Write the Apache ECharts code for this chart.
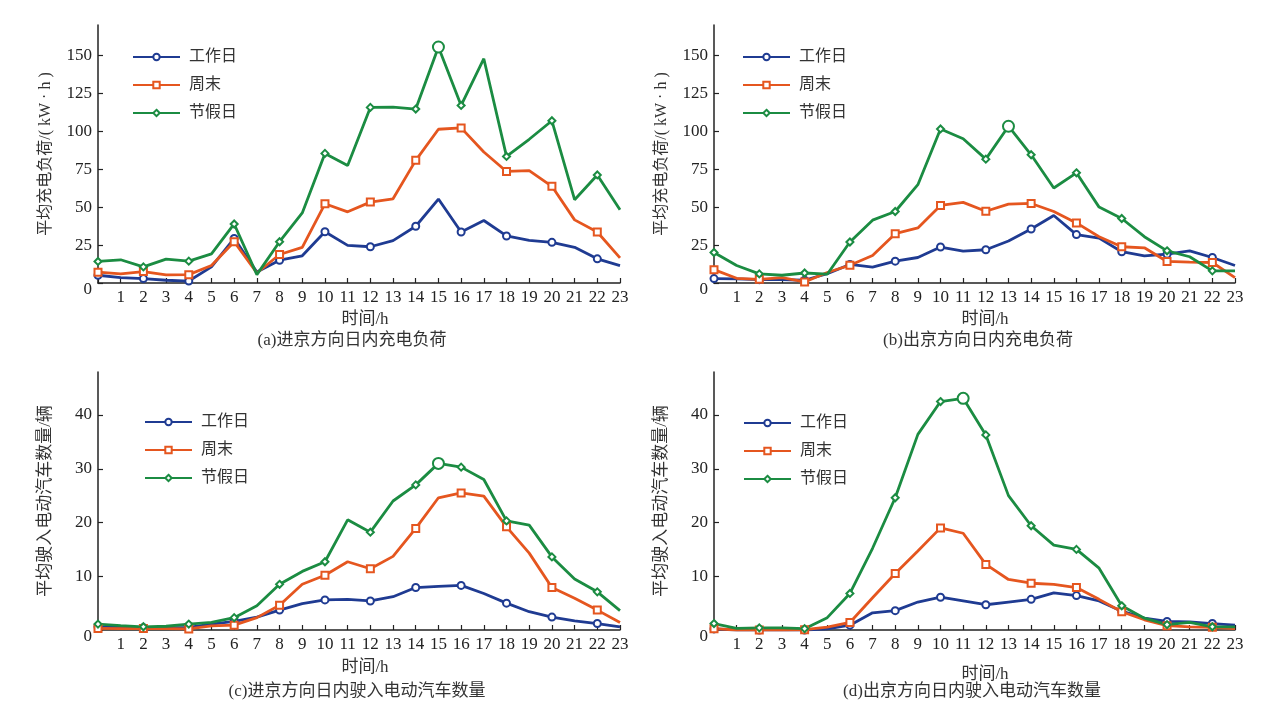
<!DOCTYPE html>
<html>
<head>
<meta charset="utf-8">
<script src="https://cdn.jsdelivr.net/npm/echarts@6/dist/echarts.min.js"></script>
<style>
  html, body { margin: 0; padding: 0; background: #fff; }
  #chart { width: 1271px; height: 715px; }
</style>
</head>
<body>
<div id="chart"></div>
<script>
const hours = ["0", "1", "2", "3", "4", "5", "6", "7", "8", "9", "10", "11",
  "12", "13", "14", "15", "16", "17", "18", "19", "20", "21", "22", "23"];
const seriesNames = ["工作日", "周末", "节假日"];

// (a) 进京 charging load
const loadInWork = [5.1, 3.5, 2.9, 1.8, 1.3, 10.6, 29.4, 7.3, 15, 17.9, 33.8, 24.8, 23.9, 27.9, 37.4, 55.3, 33.6, 41.2, 31, 28.1, 26.8, 23.5, 15.9, 11.5];
const loadInWeekend = [7.1, 6, 7.5, 5.3, 5.5, 11.5, 27.2, 6.6, 18.8, 23.5, 52.2, 46.9, 53.3, 55.5, 80.8, 101.3, 102.2, 86.3, 73.5, 74.1, 63.7, 41.6, 33.6, 16.6];
const loadInHoliday = [14.2, 15.3, 10.6, 15.7, 14.4, 19.2, 38.9, 5.5, 27.2, 46.2, 85.4, 77.4, 115.7, 115.9, 114.6, 155.5, 117, 147.8, 83.4, 94.7, 106.9, 54.9, 71.2, 48.2];

// (b) 出京 charging load
const loadOutWork = [2.9, 2.7, 2.2, 2.2, 1.8, 6.2, 12.2, 10.4, 14.4, 16.8, 23.7, 21, 21.9, 27.7, 35.6, 44.5, 31.9, 29.6, 20.6, 17.9, 19, 21.2, 16.8, 11.5];
const loadOutWeekend = [8.8, 3.1, 2.4, 3.5, 0.7, 6.9, 11.7, 18.1, 32.5, 36.3, 51.1, 53.1, 47.3, 52, 52.4, 47.1, 39.6, 30.5, 23.9, 23.2, 14.2, 13.7, 13.5, 3.5];
const loadOutHoliday = [20.1, 11.5, 6, 5.1, 6.6, 5.8, 27, 41.4, 47.1, 64.8, 101.5, 95.1, 81.6, 103.3, 84.5, 62.6, 72.6, 50, 42.5, 30.5, 21.2, 17.3, 8, 8];

// (c) 进京 arriving EVs
const carsInWork = [0.6, 0.5, 0.4, 0.4, 0.5, 1.1, 1.6, 2.4, 3.7, 4.9, 5.6, 5.7, 5.4, 6.2, 7.9, 8.1, 8.3, 6.8, 5, 3.4, 2.4, 1.7, 1.2, 0.6];
const carsInWeekend = [0.3, 0.25, 0.3, 0.25, 0.2, 0.75, 0.9, 2.3, 4.6, 8.5, 10.2, 12.7, 11.4, 13.7, 18.9, 24.6, 25.5, 24.9, 19.2, 14.3, 7.9, 5.9, 3.7, 1.4];
const carsInHoliday = [1.1, 0.8, 0.6, 0.7, 1.1, 1.4, 2.3, 4.5, 8.5, 10.9, 12.7, 20.5, 18.2, 24, 27, 31, 30.3, 28, 20.3, 19.5, 13.6, 9.5, 7.1, 3.6];

// (d) 出京 arriving EVs
const carsOutWork = [0.2, 0, 0, 0, 0, 0.2, 0.9, 3.2, 3.6, 5.2, 6.1, 5.4, 4.7, 5.2, 5.7, 6.9, 6.4, 5.4, 3.5, 2.2, 1.6, 1.5, 1.2, 0.9];
const carsOutWeekend = [0.25, 0, 0, 0, 0.05, 0.55, 1.4, 6, 10.5, 14.7, 19, 18, 12.2, 9.4, 8.7, 8.5, 7.9, 5.7, 3.4, 1.9, 0.8, 0.6, 0.5, 0.25];
const carsOutHoliday = [1.2, 0.3, 0.4, 0.4, 0.25, 2.3, 6.8, 15.2, 24.6, 36.4, 42.5, 43.1, 36.3, 25, 19.4, 15.8, 15, 11.5, 4.5, 2.2, 1, 1.4, 0.6, 0.6];

const peakHours = [15, 13, 15, 11]; // holiday peak marked with a big circle
const loadTicks = [0, 25, 50, 75, 100, 125, 150];
const carTicks = [0, 10, 20, 30, 40];

const panelTitles = ["(a)进京方向日内充电负荷", "(b)出京方向日内充电负荷",
  "(c)进京方向日内驶入电动汽车数量", "(d)出京方向日内驶入电动汽车数量"];
const yNames = ["平均充电负荷/( kW · h )", "平均充电负荷/( kW · h )", "平均驶入电动汽车数量/辆", "平均驶入电动汽车数量/辆"];

const colors = ["#1f3b92", "#e5561f", "#1b8c42"];
const symbols = ["emptyCircle", "emptyRect", "emptyDiamond"];
const serif = '"Liberation Serif", "Noto Sans CJK SC", serif';

const panels = [
  { grid: { left: 98, top: 25, width: 522, height: 258 }, max: 170, ticks: loadTicks, nameSize: 16,
    data: [loadInWork, loadInWeekend, loadInHoliday], legend: [132, 48], xName: [365, 320], title: [352, 341] },
  { grid: { left: 714, top: 25, width: 521, height: 258 }, max: 170, ticks: loadTicks, nameSize: 16,
    data: [loadOutWork, loadOutWeekend, loadOutHoliday], legend: [742, 48], xName: [985, 320], title: [978, 341] },
  { grid: { left: 98, top: 372, width: 522, height: 258 }, max: 48, ticks: carTicks, nameSize: 17,
    data: [carsInWork, carsInWeekend, carsInHoliday], legend: [144, 413], xName: [365, 668], title: [357, 692] },
  { grid: { left: 714, top: 372, width: 521, height: 258 }, max: 48, ticks: carTicks, nameSize: 17,
    data: [carsOutWork, carsOutWeekend, carsOutHoliday], legend: [743, 414], xName: [985, 675], title: [972, 692] }
];

function markData(values, peak, isHoliday) {
  return values.map((v, i) => {
    if (isHoliday && i === peak) return { value: v, symbol: "emptyCircle", symbolSize: 11 };
    if (i % 2 === 1) return { value: v, symbol: "none" };
    return v;
  });
}

function label(text, x, y) {
  return {
    type: "text",
    x: x,
    y: y,
    style: { text: text, fill: "#333", font: "17px " + serif, textAlign: "center", textVerticalAlign: "middle" }
  };
}

const option = {
  animation: false,
  grid: panels.map(p => p.grid),
  xAxis: panels.map((p, k) => ({
    type: "category",
    gridIndex: k,
    data: hours,
    boundaryGap: false,
    axisLine: { lineStyle: { color: "#222", width: 1.5 } },
    axisTick: { inside: true, length: 5, interval: 0, lineStyle: { color: "#222", width: 1.2 } },
    axisLabel: { interval: i => i > 0, margin: 6, fontFamily: serif, fontSize: 17, color: "#222" },
    splitLine: { show: false }
  })),
  yAxis: panels.map((p, k) => ({
    type: "value",
    gridIndex: k,
    min: 0,
    max: p.max,
    name: yNames[k],
    nameLocation: "middle",
    nameGap: 44,
    nameTextStyle: { fontFamily: serif, fontSize: p.nameSize, color: "#333" },
    axisLine: { show: true, lineStyle: { color: "#222", width: 1.5 } },
    axisTick: { show: true, inside: true, length: 5, customValues: p.ticks, lineStyle: { color: "#222", width: 1.2 } },
    axisLabel: {
      customValues: p.ticks,
      margin: 6,
      fontFamily: serif,
      fontSize: 17,
      color: "#222",
      formatter: v => (v === 0 ? "{z|0}" : String(v)),
      rich: { z: { padding: [14, 0, 0, 0], fontFamily: serif, fontSize: 17, color: "#222" } }
    },
    splitLine: { show: false }
  })),
  legend: panels.map(p => ({
    orient: "vertical",
    left: p.legend[0],
    top: p.legend[1],
    padding: 0,
    data: seriesNames,
    selectedMode: false,
    itemWidth: 47,
    itemHeight: 8,
    itemGap: 10,
    textStyle: { fontFamily: serif, fontSize: 16, color: "#333", lineHeight: 18, padding: [0, 0, 0, 4] }
  })),
  graphic: panels.flatMap((p, k) => [
    label("时间/h", p.xName[0], p.xName[1]),
    label(panelTitles[k], p.title[0], p.title[1])
  ]),
  series: []
};

panels.forEach((p, k) => {
  p.data.forEach((values, s) => {
    option.series.push({
      name: seriesNames[s],
      type: "line",
      xAxisIndex: k,
      yAxisIndex: k,
      data: markData(values, peakHours[k], s === 2),
      symbol: symbols[s],
      symbolSize: 7,
      showAllSymbol: true,
      color: colors[s],
      lineStyle: { width: 2.8, color: colors[s] },
      itemStyle: { color: colors[s], borderWidth: 1.3 }
    });
  });
});

const chart = echarts.init(document.getElementById("chart"));
chart.setOption(option);
window.addEventListener("resize", () => chart.resize());
</script>
</body>
</html>
